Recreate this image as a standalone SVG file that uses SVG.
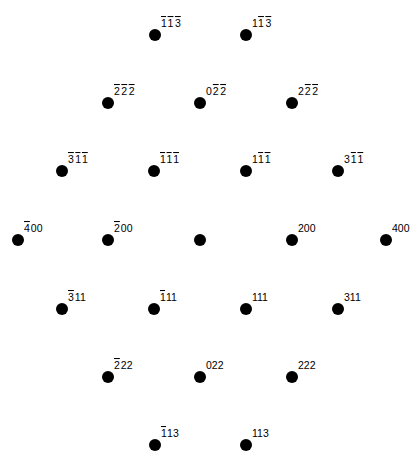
<svg xmlns="http://www.w3.org/2000/svg" width="419" height="456" viewBox="0 0 419 456">
<style>
.d{fill:#000}
text{font-family:"Liberation Sans",Arial,sans-serif;font-size:10.5px;fill:#000}
.b{text-decoration:overline}
</style>
<rect width="419" height="456" fill="#fff"/>
<g id="connectors"/>
<g id="n1b1b3b"><circle class="d" cx="155" cy="35" r="6"/><text x="161" y="27"><tspan class="b">1</tspan><tspan class="b" dx="1.5">1</tspan><tspan class="b" dx="1.5">3</tspan></text></g>
<g id="n11b3b"><circle class="d" cx="246" cy="35" r="6"/><text x="252" y="27">1<tspan class="b" dx="1">1</tspan><tspan class="b" dx="1.5">3</tspan></text></g>
<g id="n2b2b2b"><circle class="d" cx="108" cy="103" r="6"/><text x="114" y="95"><tspan class="b">2</tspan><tspan class="b" dx="1.5">2</tspan><tspan class="b" dx="1.5">2</tspan></text></g>
<g id="n02b2b"><circle class="d" cx="200" cy="103" r="6"/><text x="206" y="95">0<tspan class="b" dx="1">2</tspan><tspan class="b" dx="1.5">2</tspan></text></g>
<g id="n22b2b"><circle class="d" cx="292" cy="103" r="6"/><text x="298" y="95">2<tspan class="b" dx="1">2</tspan><tspan class="b" dx="1.5">2</tspan></text></g>
<g id="n3b1b1b"><circle class="d" cx="62" cy="171" r="6"/><text x="68" y="163"><tspan class="b">3</tspan><tspan class="b" dx="1.5">1</tspan><tspan class="b" dx="1.5">1</tspan></text></g>
<g id="n1b1b1b"><circle class="d" cx="154" cy="171" r="6"/><text x="160" y="163"><tspan class="b">1</tspan><tspan class="b" dx="1.5">1</tspan><tspan class="b" dx="1.5">1</tspan></text></g>
<g id="n11b1b"><circle class="d" cx="246" cy="171" r="6"/><text x="252" y="163">1<tspan class="b" dx="1">1</tspan><tspan class="b" dx="1.5">1</tspan></text></g>
<g id="n31b1b"><circle class="d" cx="338" cy="171" r="6"/><text x="344" y="163">3<tspan class="b" dx="1">1</tspan><tspan class="b" dx="1.5">1</tspan></text></g>
<g id="n4b00"><circle class="d" cx="18" cy="240" r="6"/><text x="24" y="232"><tspan class="b">4</tspan><tspan dx="1">00</tspan></text></g>
<g id="n2b00"><circle class="d" cx="108" cy="240" r="6"/><text x="114" y="232"><tspan class="b">2</tspan><tspan dx="1">00</tspan></text></g>
<g id="n000"><circle class="d" cx="200" cy="240" r="6"/></g>
<g id="n200"><circle class="d" cx="292" cy="240" r="6"/><text x="298" y="232">200</text></g>
<g id="n400"><circle class="d" cx="386" cy="240" r="6"/><text x="392" y="232">400</text></g>
<g id="n3b11"><circle class="d" cx="62" cy="309" r="6"/><text x="68" y="301"><tspan class="b">3</tspan><tspan dx="1">11</tspan></text></g>
<g id="n1b11"><circle class="d" cx="154" cy="309" r="6"/><text x="160" y="301"><tspan class="b">1</tspan><tspan dx="1">11</tspan></text></g>
<g id="n111"><circle class="d" cx="246" cy="309" r="6"/><text x="252" y="301">111</text></g>
<g id="n311"><circle class="d" cx="338" cy="309" r="6"/><text x="344" y="301">311</text></g>
<g id="n2b22"><circle class="d" cx="108" cy="377" r="6"/><text x="114" y="369"><tspan class="b">2</tspan><tspan dx="1">22</tspan></text></g>
<g id="n022"><circle class="d" cx="200" cy="377" r="6"/><text x="206" y="369">022</text></g>
<g id="n222"><circle class="d" cx="292" cy="377" r="6"/><text x="298" y="369">222</text></g>
<g id="n1b13"><circle class="d" cx="155" cy="445" r="6"/><text x="161" y="437"><tspan class="b">1</tspan><tspan dx="1">13</tspan></text></g>
<g id="n113"><circle class="d" cx="246" cy="445" r="6"/><text x="252" y="437">113</text></g>
</svg>
